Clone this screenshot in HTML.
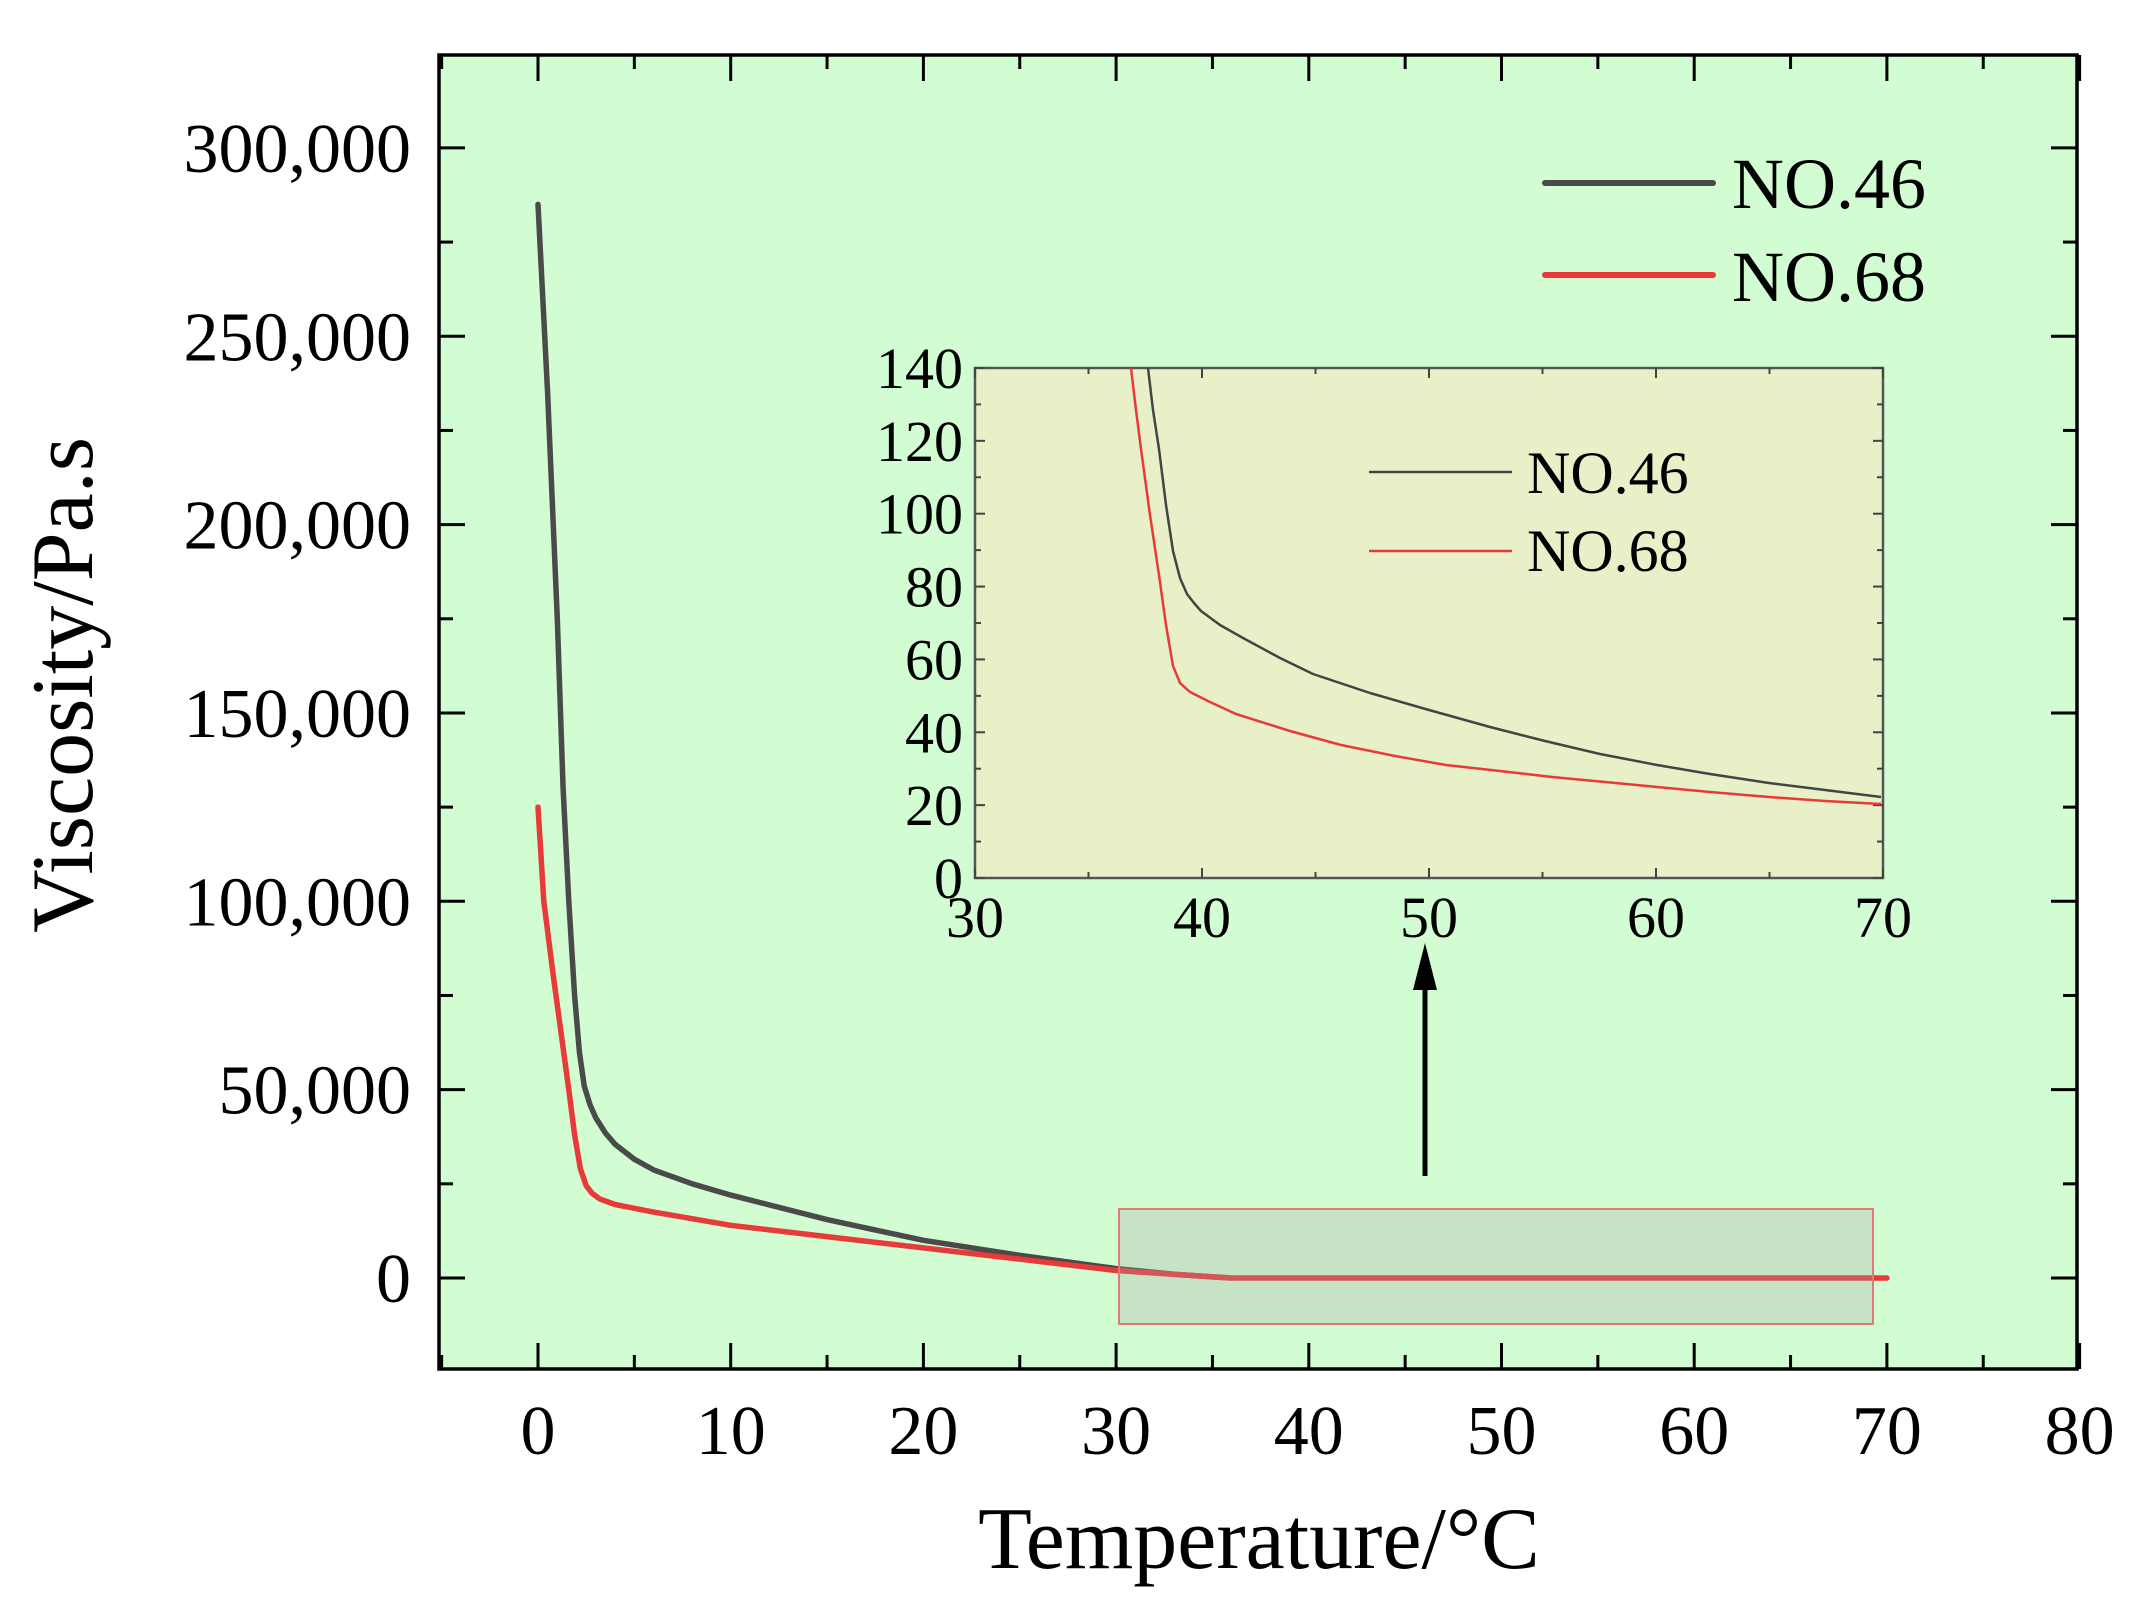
<!DOCTYPE html>
<html><head><meta charset="utf-8"><style>
html,body{margin:0;padding:0;background:#fff;}
svg{display:block;}
text{font-family:"Liberation Serif","Times New Roman",serif;fill:#000;}
</style></head><body>
<svg id="s" width="2147" height="1604" viewBox="0 0 2147 1604" xmlns="http://www.w3.org/2000/svg">
<rect x="0" y="0" width="2147" height="1604" fill="#fff"/>
<rect x="439" y="55" width="1638" height="1314" fill="#d2fdd2"/>
<g id="mainticks" stroke="#000" stroke-width="3"></g>
<g id="curves" fill="none" stroke-linejoin="round" stroke-linecap="round"></g>
<rect x="1119" y="1209" width="754" height="115" fill="rgba(170,160,170,0.28)" stroke="#e07a74" stroke-width="2"/>
<line x1="1425" y1="1176" x2="1425" y2="982" stroke="#000" stroke-width="5"/>
<polygon points="1425,943 1413,990 1437,990" fill="#000"/>
<rect x="975" y="368" width="908" height="510" fill="#e8f0c8" stroke="#555" stroke-width="2.5"/>
<g id="insetticks" stroke="#444" stroke-width="2"></g>
<g id="insetcurves" fill="none" stroke-width="2.5" stroke-linejoin="round"></g>
<line x1="1369" y1="472" x2="1512" y2="472" stroke="#444" stroke-width="2.5"/>
<line x1="1369" y1="551" x2="1512" y2="551" stroke="#e83a3a" stroke-width="2.5"/>
<text x="1527" y="493" font-size="60">NO.46</text>
<text x="1527" y="571" font-size="60">NO.68</text>
<rect x="439" y="55" width="1638" height="1314" fill="none" stroke="#000" stroke-width="3.5"/>
<line x1="1545" y1="183" x2="1713" y2="183" stroke="#4a4a4a" stroke-width="6" stroke-linecap="round"/>
<line x1="1545" y1="275" x2="1713" y2="275" stroke="#e83a3a" stroke-width="6" stroke-linecap="round"/>
<text x="1732" y="208" font-size="72">NO.46</text>
<text x="1732" y="301" font-size="72">NO.68</text>
<g id="labels"></g>
<text x="1259" y="1568" font-size="88" text-anchor="middle">Temperature/°C</text>
<text transform="translate(92,685) rotate(-90)" font-size="88" text-anchor="middle">Viscosity/Pa.s</text>
</svg>
<script>
var NS="http://www.w3.org/2000/svg";
function el(p,t,a,txt){var e=document.createElementNS(NS,t);for(var k in a)e.setAttribute(k,a[k]);if(txt!=null)e.textContent=txt;document.getElementById(p).appendChild(e);return e;}
var X=function(t){return 538+t*19.27;}, Y=function(v){return 1278-v*3.767;};
for(var t=-5;t<=80;t+=5){var x=X(t);var maj=(t%10===0);var L=maj?26:14;
 el("mainticks","line",{x1:x,y1:1369,x2:x,y2:1369-L});el("mainticks","line",{x1:x,y1:55,x2:x,y2:55+L});
 if(maj&&t>=0) el("labels","text",{x:x,y:1454,"font-size":70,"text-anchor":"middle"},String(t));}
for(var v=0;v<=300;v+=25){var y=Y(v);var maj=(v%50===0);var L=maj?26:14;
 el("mainticks","line",{x1:439,y1:y,x2:439+L,y2:y});el("mainticks","line",{x1:2077,y1:y,x2:2077-L,y2:y});
 if(maj){var s=v===0?"0":(v+",000");el("labels","text",{x:411,y:y+24,"font-size":70,"text-anchor":"end"},s);}}
function poly(pts){return pts.map(function(p){return X(p[0]).toFixed(1)+","+Y(p[1]).toFixed(1)}).join(" ");}
var blk=[[0,285],[0.5,235],[1,175],[1.3,130],[1.6,100],[1.9,75],[2.15,60],[2.4,51],[2.7,46],[3,42.5],[3.5,38.5],[4,35.5],[5,31.5],[6,28.7],[8,25],[10,22],[15,15.5],[20,10],[25,6],[30,2.5],[33,1],[35,0.3],[36,0]];
var red=[[0,125],[0.3,100],[0.8,80],[1.2,65],[1.6,50],[1.9,38],[2.2,29],[2.5,24.5],[2.8,22.5],[3.2,21],[4,19.5],[6,17.5],[10,14],[15,11],[20,8],[25,5],[30,2],[35,0.3],[36,0],[70,0]];
el("curves","polyline",{points:poly(blk),stroke:"#4a4a4a","stroke-width":5.5});
el("curves","polyline",{points:poly(red),stroke:"#e83a3a","stroke-width":5.5});
var IX=function(t){return 975+(t-30)*22.7;}, IY=function(v){return 878-v*3.643;};
for(var t=30;t<=70;t+=5){var x=IX(t);var maj=(t%10===0);var L=maj?10:6;
 el("insetticks","line",{x1:x,y1:878,x2:x,y2:878-L});el("insetticks","line",{x1:x,y1:368,x2:x,y2:368+L});
 if(maj) el("labels","text",{x:x,y:937,"font-size":58,"text-anchor":"middle"},String(t));}
for(var v=0;v<=140;v+=10){var y=IY(v);var maj=(v%20===0);var L=maj?10:6;
 el("insetticks","line",{x1:975,y1:y,x2:975+L,y2:y});el("insetticks","line",{x1:1883,y1:y,x2:1883-L,y2:y});
 if(maj) el("labels","text",{x:963,y:y+20,"font-size":58,"text-anchor":"end"},String(v));}
el("insetcurves","polyline",{stroke:"#444",points:"1148,368 1153,410 1159,449 1166,505 1173,551 1180,578 1187,594 1194,603 1201,611 1220,625 1243,638 1280,658 1313,674 1370,693 1429,710 1490,727 1545,741 1600,754 1657,765 1710,774 1769,783 1825,790 1881,797"});
el("insetcurves","polyline",{stroke:"#e83a3a",points:"1131,368 1136,410 1141,449 1150,515 1159,575 1166,625 1173,666 1180,683 1190,692 1210,702 1236,714 1290,731 1341,745 1395,756 1446,765 1500,771 1552,777 1605,782 1657,787 1710,792 1769,797 1825,801 1881,804"});
</script>
</body></html>
